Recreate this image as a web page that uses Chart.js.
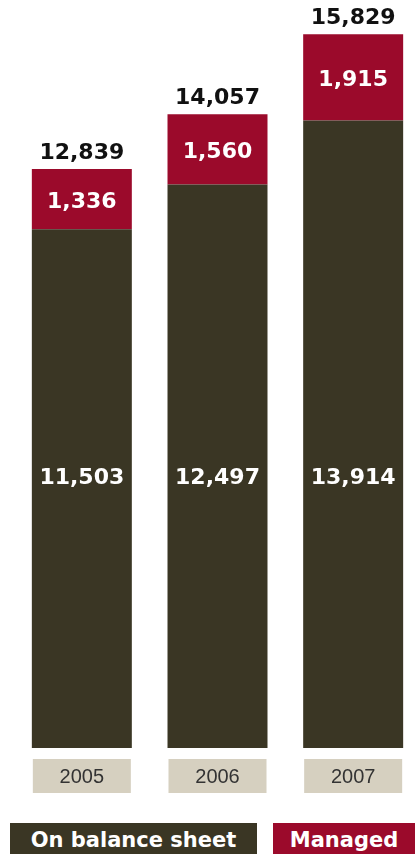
<!DOCTYPE html>
<html>
<head>
<meta charset="utf-8">
<script src="https://cdn.jsdelivr.net/npm/chart.js@4"></script>
<style>
  html, body { margin: 0; padding: 0; background: #fff; overflow: hidden; width: 415px; height: 854px; }
  #wrap { position: absolute; left: 0; top: 0; width: 421px; height: 854px; }
  .legend { position: absolute; top: 823px; height: 40px; color: #fff; font-family: "DejaVu Sans", sans-serif; font-weight: bold; font-size: 21px; line-height: 34px; text-align: center; }
  #lg1 { left: 10px; width: 247px; background: #3a3624; }
  #lg2 { left: 273px; width: 142px; background: #9b0a2b; }
</style>
</head>
<body>
<div id="wrap"><canvas id="grafico"></canvas></div>
<div class="legend" id="lg1">On balance sheet</div>
<div class="legend" id="lg2">Managed</div>
<script>
const years = ['2005', '2006', '2007'];
const onBalance = [11503, 12497, 13914];
const managed = [1336, 1560, 1915];

const colorDark = '#3a3624';
const colorRed = '#9b0a2b';

const fmt = v => v.toLocaleString('en-US');

// etiquetas de valores y cajas de los años
const etiquetas = {
  id: 'etiquetas',
  afterDatasetsDraw(chart) {
    const ctx = chart.ctx;
    const x = chart.scales.x;
    const y = chart.scales.y;
    ctx.save();
    ctx.textAlign = 'center';
    ctx.textBaseline = 'middle';
    years.forEach((yr, i) => {
      const cx = x.getPixelForValue(i);
      const barDark = chart.getDatasetMeta(0).data[i];
      const barRed = chart.getDatasetMeta(1).data[i];

      ctx.font = 'bold 22px "DejaVu Sans"';
      ctx.fillStyle = '#fff';
      ctx.fillText(fmt(onBalance[i]), cx, 478);
      ctx.fillText(fmt(managed[i]), cx, (barRed.y + barRed.base) / 2 + 3);

      ctx.fillStyle = '#111';
      ctx.textBaseline = 'bottom';
      ctx.fillText(fmt(onBalance[i] + managed[i]), cx, barRed.y - 5);
      ctx.textBaseline = 'middle';

      // caja del año
      const base = y.getPixelForValue(0);
      ctx.fillStyle = '#d6d0c0';
      ctx.fillRect(cx - 49, base + 11, 98, 34);
      ctx.fillStyle = '#333';
      ctx.font = '20px "Liberation Sans"';
      ctx.fillText(yr, cx, base + 29);
    });
    ctx.restore();
  }
};

const ctx = document.getElementById('grafico').getContext('2d');
new Chart(ctx, {
  type: 'bar',
  data: {
    labels: years,
    datasets: [
      { label: 'On balance sheet', data: onBalance, backgroundColor: colorDark, barPercentage: 0.737, categoryPercentage: 1 },
      { label: 'Managed', data: managed, backgroundColor: colorRed, barPercentage: 0.737, categoryPercentage: 1 }
    ]
  },
  options: {
    responsive: true,
    maintainAspectRatio: false,
    animation: false,
    layout: { padding: { left: 14, right: 0, top: 4, bottom: 106 } },
    plugins: { legend: { display: false }, tooltip: { enabled: false } },
    scales: {
      x: { stacked: true, display: false },
      y: { stacked: true, display: false, min: 0, max: 16500 }
    }
  },
  plugins: [etiquetas]
});
</script>
</body>
</html>
